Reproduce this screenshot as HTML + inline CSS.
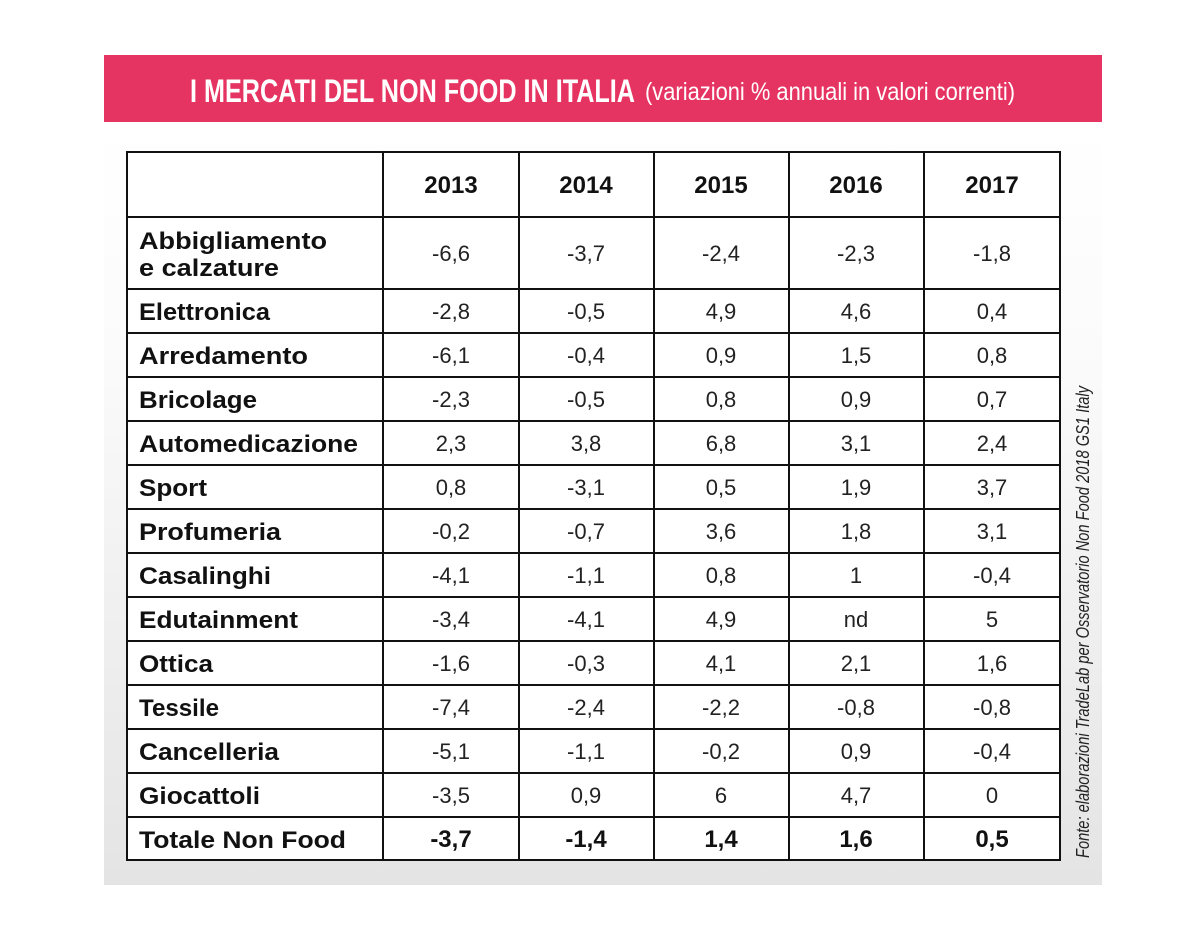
<!DOCTYPE html>
<html><head><meta charset="utf-8"><style>
html,body{margin:0;padding:0;background:#fff;}
svg{display:block;}
</style></head><body>
<svg width="1202" height="928" viewBox="0 0 1202 928" xmlns="http://www.w3.org/2000/svg" font-family="Liberation Sans, sans-serif">
<defs>
<linearGradient id="g" x1="0" y1="0" x2="0" y2="1">
<stop offset="0" stop-color="#ffffff"/>
<stop offset="0.3" stop-color="#fbfbfb"/>
<stop offset="1" stop-color="#e4e4e4"/>
</linearGradient>
</defs>
<rect x="104" y="122" width="998" height="763" fill="url(#g)"/>
<rect x="104" y="55" width="998" height="67" fill="#e63462"/>
<text x="190" y="102" fill="#fff" font-size="32" font-weight="bold" textLength="445" lengthAdjust="spacingAndGlyphs">I MERCATI DEL NON FOOD IN ITALIA</text>
<text x="645" y="100" fill="#fff" font-size="25" textLength="370" lengthAdjust="spacingAndGlyphs">(variazioni % annuali in valori correnti)</text>
<rect x="127" y="152" width="933" height="708" fill="#fff" stroke="#111" stroke-width="2"/>
<g stroke="#111" stroke-width="2">
<line x1="383" y1="152" x2="383" y2="860"/>
<line x1="519" y1="152" x2="519" y2="860"/>
<line x1="654" y1="152" x2="654" y2="860"/>
<line x1="789" y1="152" x2="789" y2="860"/>
<line x1="924" y1="152" x2="924" y2="860"/>
<line x1="127" y1="217" x2="1060" y2="217"/>
<line x1="127" y1="289" x2="1060" y2="289"/>
<line x1="127" y1="333" x2="1060" y2="333"/>
<line x1="127" y1="377" x2="1060" y2="377"/>
<line x1="127" y1="421" x2="1060" y2="421"/>
<line x1="127" y1="465" x2="1060" y2="465"/>
<line x1="127" y1="509" x2="1060" y2="509"/>
<line x1="127" y1="553" x2="1060" y2="553"/>
<line x1="127" y1="597" x2="1060" y2="597"/>
<line x1="127" y1="641" x2="1060" y2="641"/>
<line x1="127" y1="685" x2="1060" y2="685"/>
<line x1="127" y1="729" x2="1060" y2="729"/>
<line x1="127" y1="773" x2="1060" y2="773"/>
<line x1="127" y1="817" x2="1060" y2="817"/>
</g>
<g font-size="24" font-weight="bold" fill="#111" text-anchor="middle">
<text x="451" y="193">2013</text><text x="586" y="193">2014</text><text x="721" y="193">2015</text><text x="856" y="193">2016</text><text x="992" y="193">2017</text>
</g>
<g font-size="24" font-weight="bold" fill="#111">
<text x="139" y="249" textLength="188" lengthAdjust="spacingAndGlyphs">Abbigliamento</text>
<text x="139" y="276" textLength="140" lengthAdjust="spacingAndGlyphs">e calzature</text>
<text x="139" y="320" textLength="131" lengthAdjust="spacingAndGlyphs">Elettronica</text>
<text x="139" y="364" textLength="169" lengthAdjust="spacingAndGlyphs">Arredamento</text>
<text x="139" y="408" textLength="118" lengthAdjust="spacingAndGlyphs">Bricolage</text>
<text x="139" y="452" textLength="219" lengthAdjust="spacingAndGlyphs">Automedicazione</text>
<text x="139" y="496" textLength="68" lengthAdjust="spacingAndGlyphs">Sport</text>
<text x="139" y="540" textLength="142" lengthAdjust="spacingAndGlyphs">Profumeria</text>
<text x="139" y="584" textLength="132" lengthAdjust="spacingAndGlyphs">Casalinghi</text>
<text x="139" y="628" textLength="159" lengthAdjust="spacingAndGlyphs">Edutainment</text>
<text x="139" y="672" textLength="74" lengthAdjust="spacingAndGlyphs">Ottica</text>
<text x="139" y="716" textLength="80" lengthAdjust="spacingAndGlyphs">Tessile</text>
<text x="139" y="760" textLength="140" lengthAdjust="spacingAndGlyphs">Cancelleria</text>
<text x="139" y="804" textLength="121" lengthAdjust="spacingAndGlyphs">Giocattoli</text>
<text x="139" y="848" textLength="207" lengthAdjust="spacingAndGlyphs">Totale Non Food</text>
</g>
<g font-size="22" fill="#222" text-anchor="middle">
<text x="451" y="261">-6,6</text><text x="586" y="261">-3,7</text><text x="721" y="261">-2,4</text><text x="856" y="261">-2,3</text><text x="992" y="261">-1,8</text>
<text x="451" y="319">-2,8</text><text x="586" y="319">-0,5</text><text x="721" y="319">4,9</text><text x="856" y="319">4,6</text><text x="992" y="319">0,4</text>
<text x="451" y="363">-6,1</text><text x="586" y="363">-0,4</text><text x="721" y="363">0,9</text><text x="856" y="363">1,5</text><text x="992" y="363">0,8</text>
<text x="451" y="407">-2,3</text><text x="586" y="407">-0,5</text><text x="721" y="407">0,8</text><text x="856" y="407">0,9</text><text x="992" y="407">0,7</text>
<text x="451" y="451">2,3</text><text x="586" y="451">3,8</text><text x="721" y="451">6,8</text><text x="856" y="451">3,1</text><text x="992" y="451">2,4</text>
<text x="451" y="495">0,8</text><text x="586" y="495">-3,1</text><text x="721" y="495">0,5</text><text x="856" y="495">1,9</text><text x="992" y="495">3,7</text>
<text x="451" y="539">-0,2</text><text x="586" y="539">-0,7</text><text x="721" y="539">3,6</text><text x="856" y="539">1,8</text><text x="992" y="539">3,1</text>
<text x="451" y="583">-4,1</text><text x="586" y="583">-1,1</text><text x="721" y="583">0,8</text><text x="856" y="583">1</text><text x="992" y="583">-0,4</text>
<text x="451" y="627">-3,4</text><text x="586" y="627">-4,1</text><text x="721" y="627">4,9</text><text x="856" y="627">nd</text><text x="992" y="627">5</text>
<text x="451" y="671">-1,6</text><text x="586" y="671">-0,3</text><text x="721" y="671">4,1</text><text x="856" y="671">2,1</text><text x="992" y="671">1,6</text>
<text x="451" y="715">-7,4</text><text x="586" y="715">-2,4</text><text x="721" y="715">-2,2</text><text x="856" y="715">-0,8</text><text x="992" y="715">-0,8</text>
<text x="451" y="759">-5,1</text><text x="586" y="759">-1,1</text><text x="721" y="759">-0,2</text><text x="856" y="759">0,9</text><text x="992" y="759">-0,4</text>
<text x="451" y="803">-3,5</text><text x="586" y="803">0,9</text><text x="721" y="803">6</text><text x="856" y="803">4,7</text><text x="992" y="803">0</text>
</g>
<g font-size="24" font-weight="bold" fill="#111" text-anchor="middle">
<text x="451" y="847">-3,7</text><text x="586" y="847">-1,4</text><text x="721" y="847">1,4</text><text x="856" y="847">1,6</text><text x="992" y="847">0,5</text>
</g>
<text transform="translate(1089,858) rotate(-90)" font-size="18" font-style="italic" fill="#222" textLength="472" lengthAdjust="spacingAndGlyphs">Fonte:  elaborazioni TradeLab per Osservatorio Non Food 2018 GS1 Italy</text>
</svg>
</body></html>
